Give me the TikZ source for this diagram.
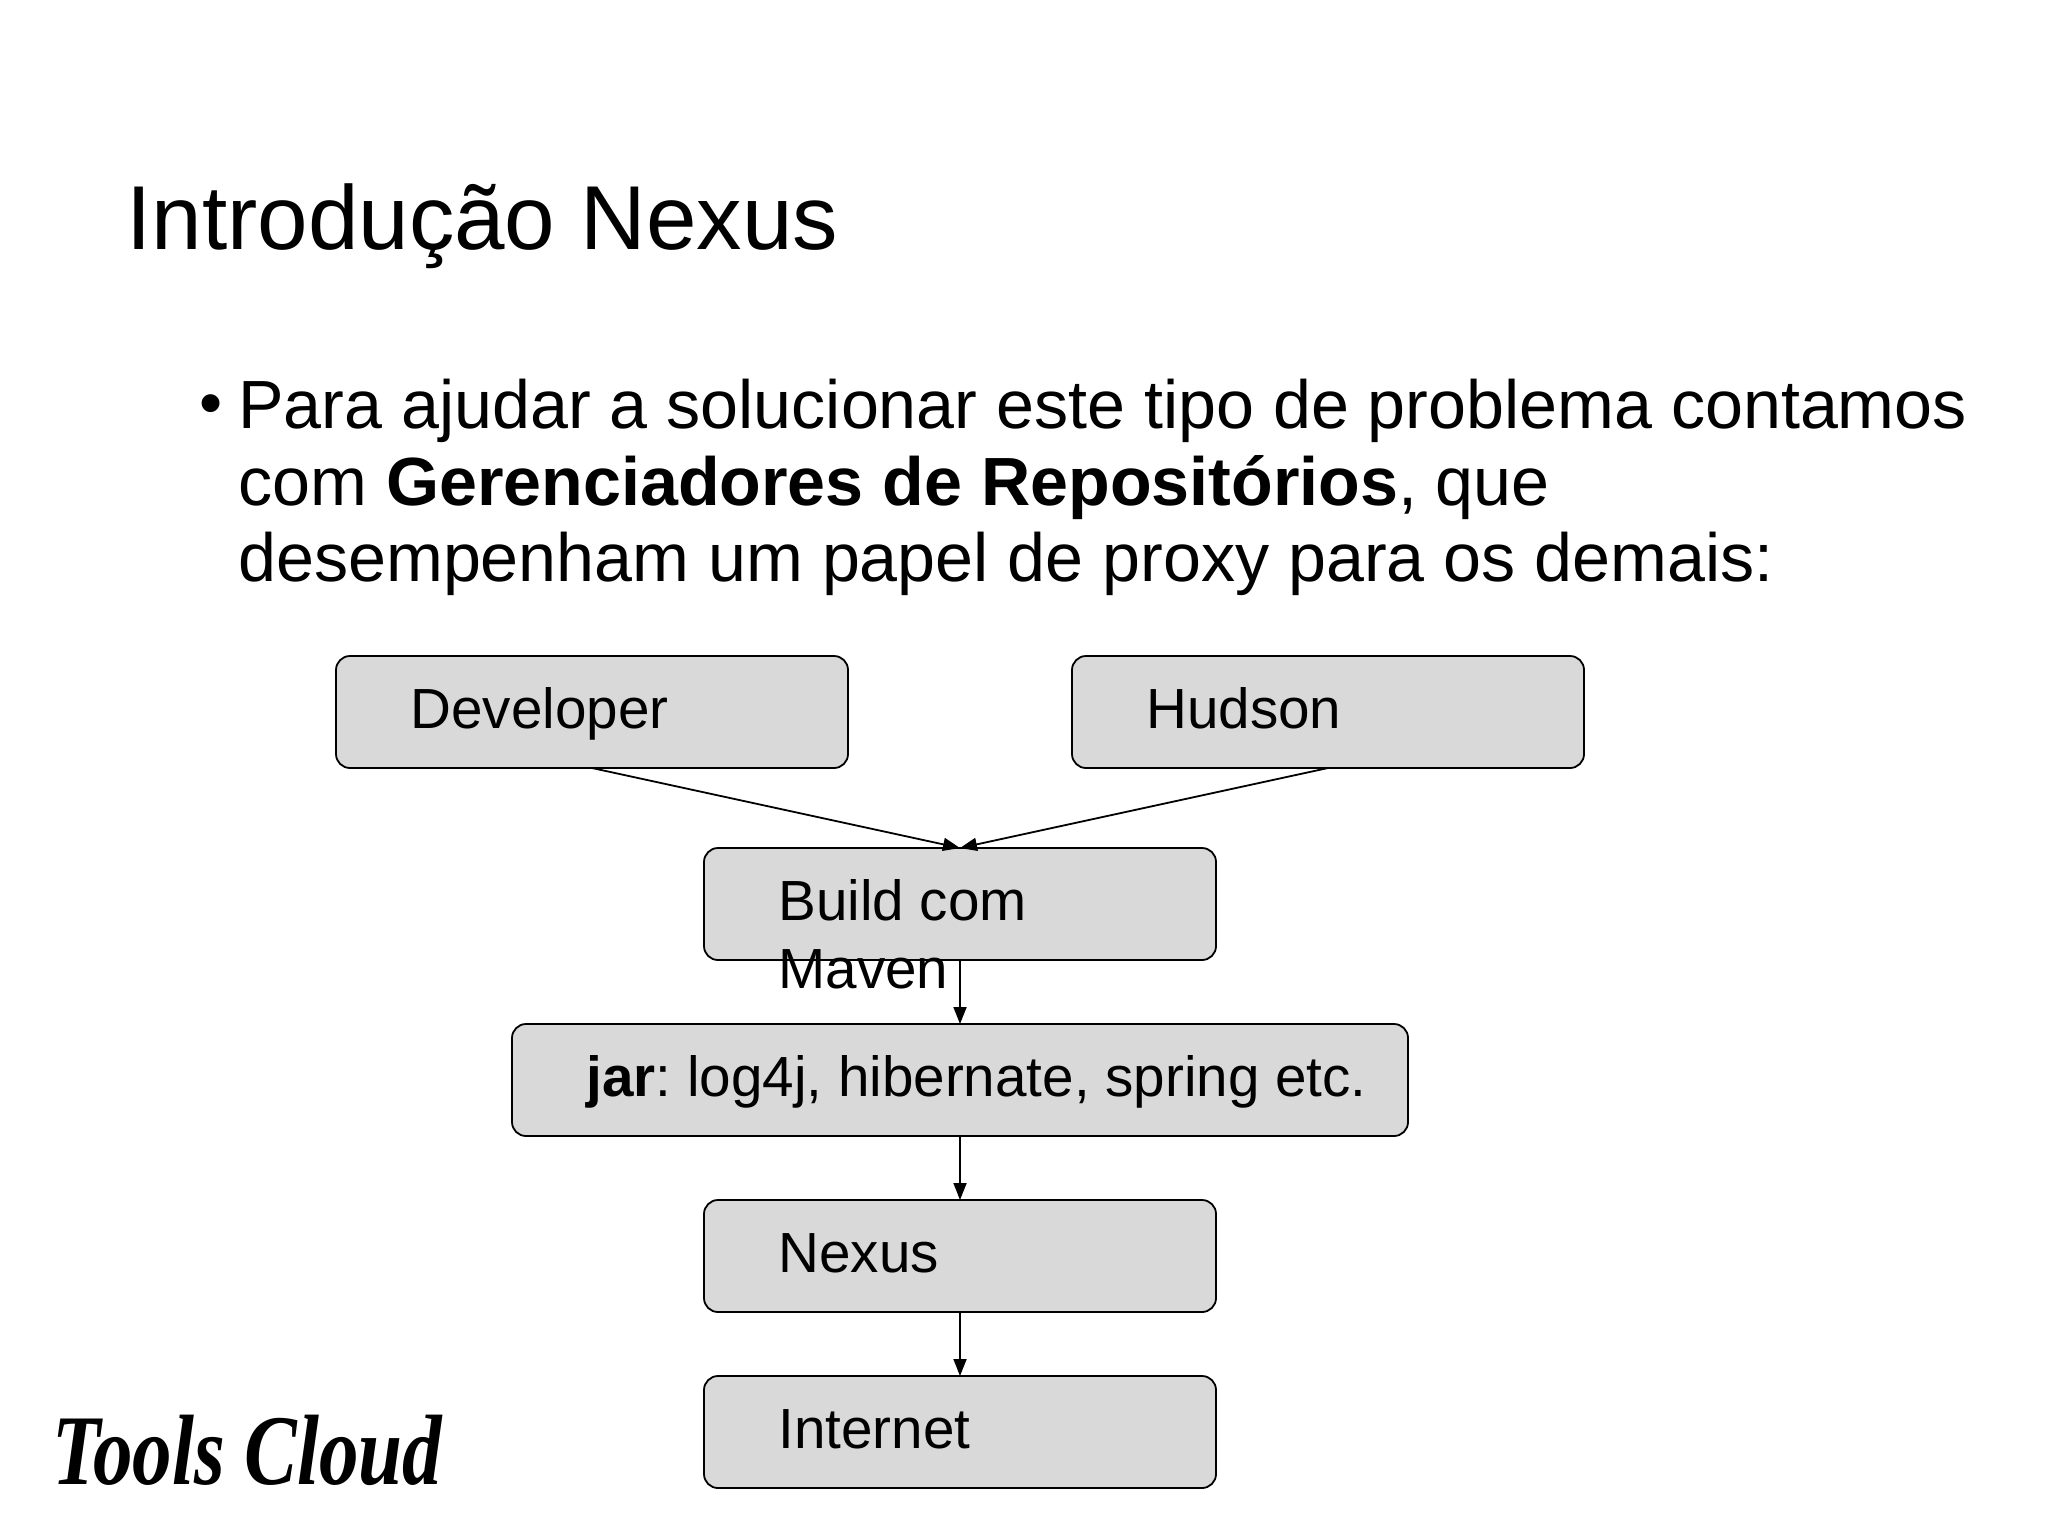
\documentclass[tikz,border=0pt]{standalone}
\usepackage{fontspec}
\setmainfont{Liberation Sans}
\newfontfamily\logofont{Liberation Serif}
\usetikzlibrary{positioning,arrows.meta}
\definecolor{boxgray}{RGB}{217,217,217}
\frenchspacing
\tikzset{
  boxnode/.style={draw=black, fill=boxgray, rounded corners=7pt, line width=0.9pt, inner sep=0pt, outer sep=0pt},
  boxtext/.style={font=\fontsize{28.3pt}{34pt}\selectfont, align=left, inner sep=0pt},
  bodytext/.style={font=\fontsize{34.1pt}{38.2pt}\selectfont, align=left, inner sep=0pt, anchor=north west},
  linkarrow/.style={-{Triangle[length=8.5pt,width=6.5pt]}, line width=0.9pt}
}
\begin{document}
\begin{tikzpicture}[x=0.5pt,y=-0.5pt]
  \useasboundingbox (0,0) rectangle (2048,1536);

  % Title and bullet
  \node[font=\fontsize{45.4pt}{45pt}\selectfont, inner sep=0pt, anchor=base west] (title) at (126,249) {Introdução Nexus};
  \node[font=\fontsize{33pt}{33pt}\selectfont, inner sep=0pt, anchor=base west] (bullet) at (199,425) {•};
  \node[bodytext] (body) at (238,375) {\strut Para ajudar a solucionar este tipo de problema contamos\\com \textbf{Gerenciadores de Repositórios}, que\\desempenham um papel de proxy para os demais:};

  % Boxes
  \foreach \name/\xc/\yc/\boxw/\txt in {developer/592/712/256/{Developer},
                                        hudson/1328/712/256/{Hudson},
                                        build/960/904/256/{Build com\\Maven},
                                        jar/960/1080/448/{\textbf{jar}: log4j, hibernate, spring etc.},
                                        nexus/960/1256/256/{Nexus},
                                        internet/960/1432/256/{Internet}} {
    \node[boxnode, minimum width=\boxw pt, minimum height=56pt] (\name) at (\xc,\yc) {};
    \node[boxtext, below right=12.4pt and 37pt of \name.north west] (\name-text) {\strut\txt};
  }

  % Connecting boxes
  \draw[linkarrow] (developer.south) -- (build.north);
  \draw[linkarrow] (hudson.south) -- (build.north);
  \draw[linkarrow] (build) -- (jar);
  \draw[linkarrow] (jar) -- (nexus);
  \draw[linkarrow] (nexus) -- (internet);

  % Logo
  \node[font=\logofont\bfseries\itshape\fontsize{50pt}{50pt}\selectfont, inner sep=0pt, anchor=base west, xscale=0.79, transform shape] (logo) at (52,1484) {Tools Cloud};
\end{tikzpicture}
\end{document}
